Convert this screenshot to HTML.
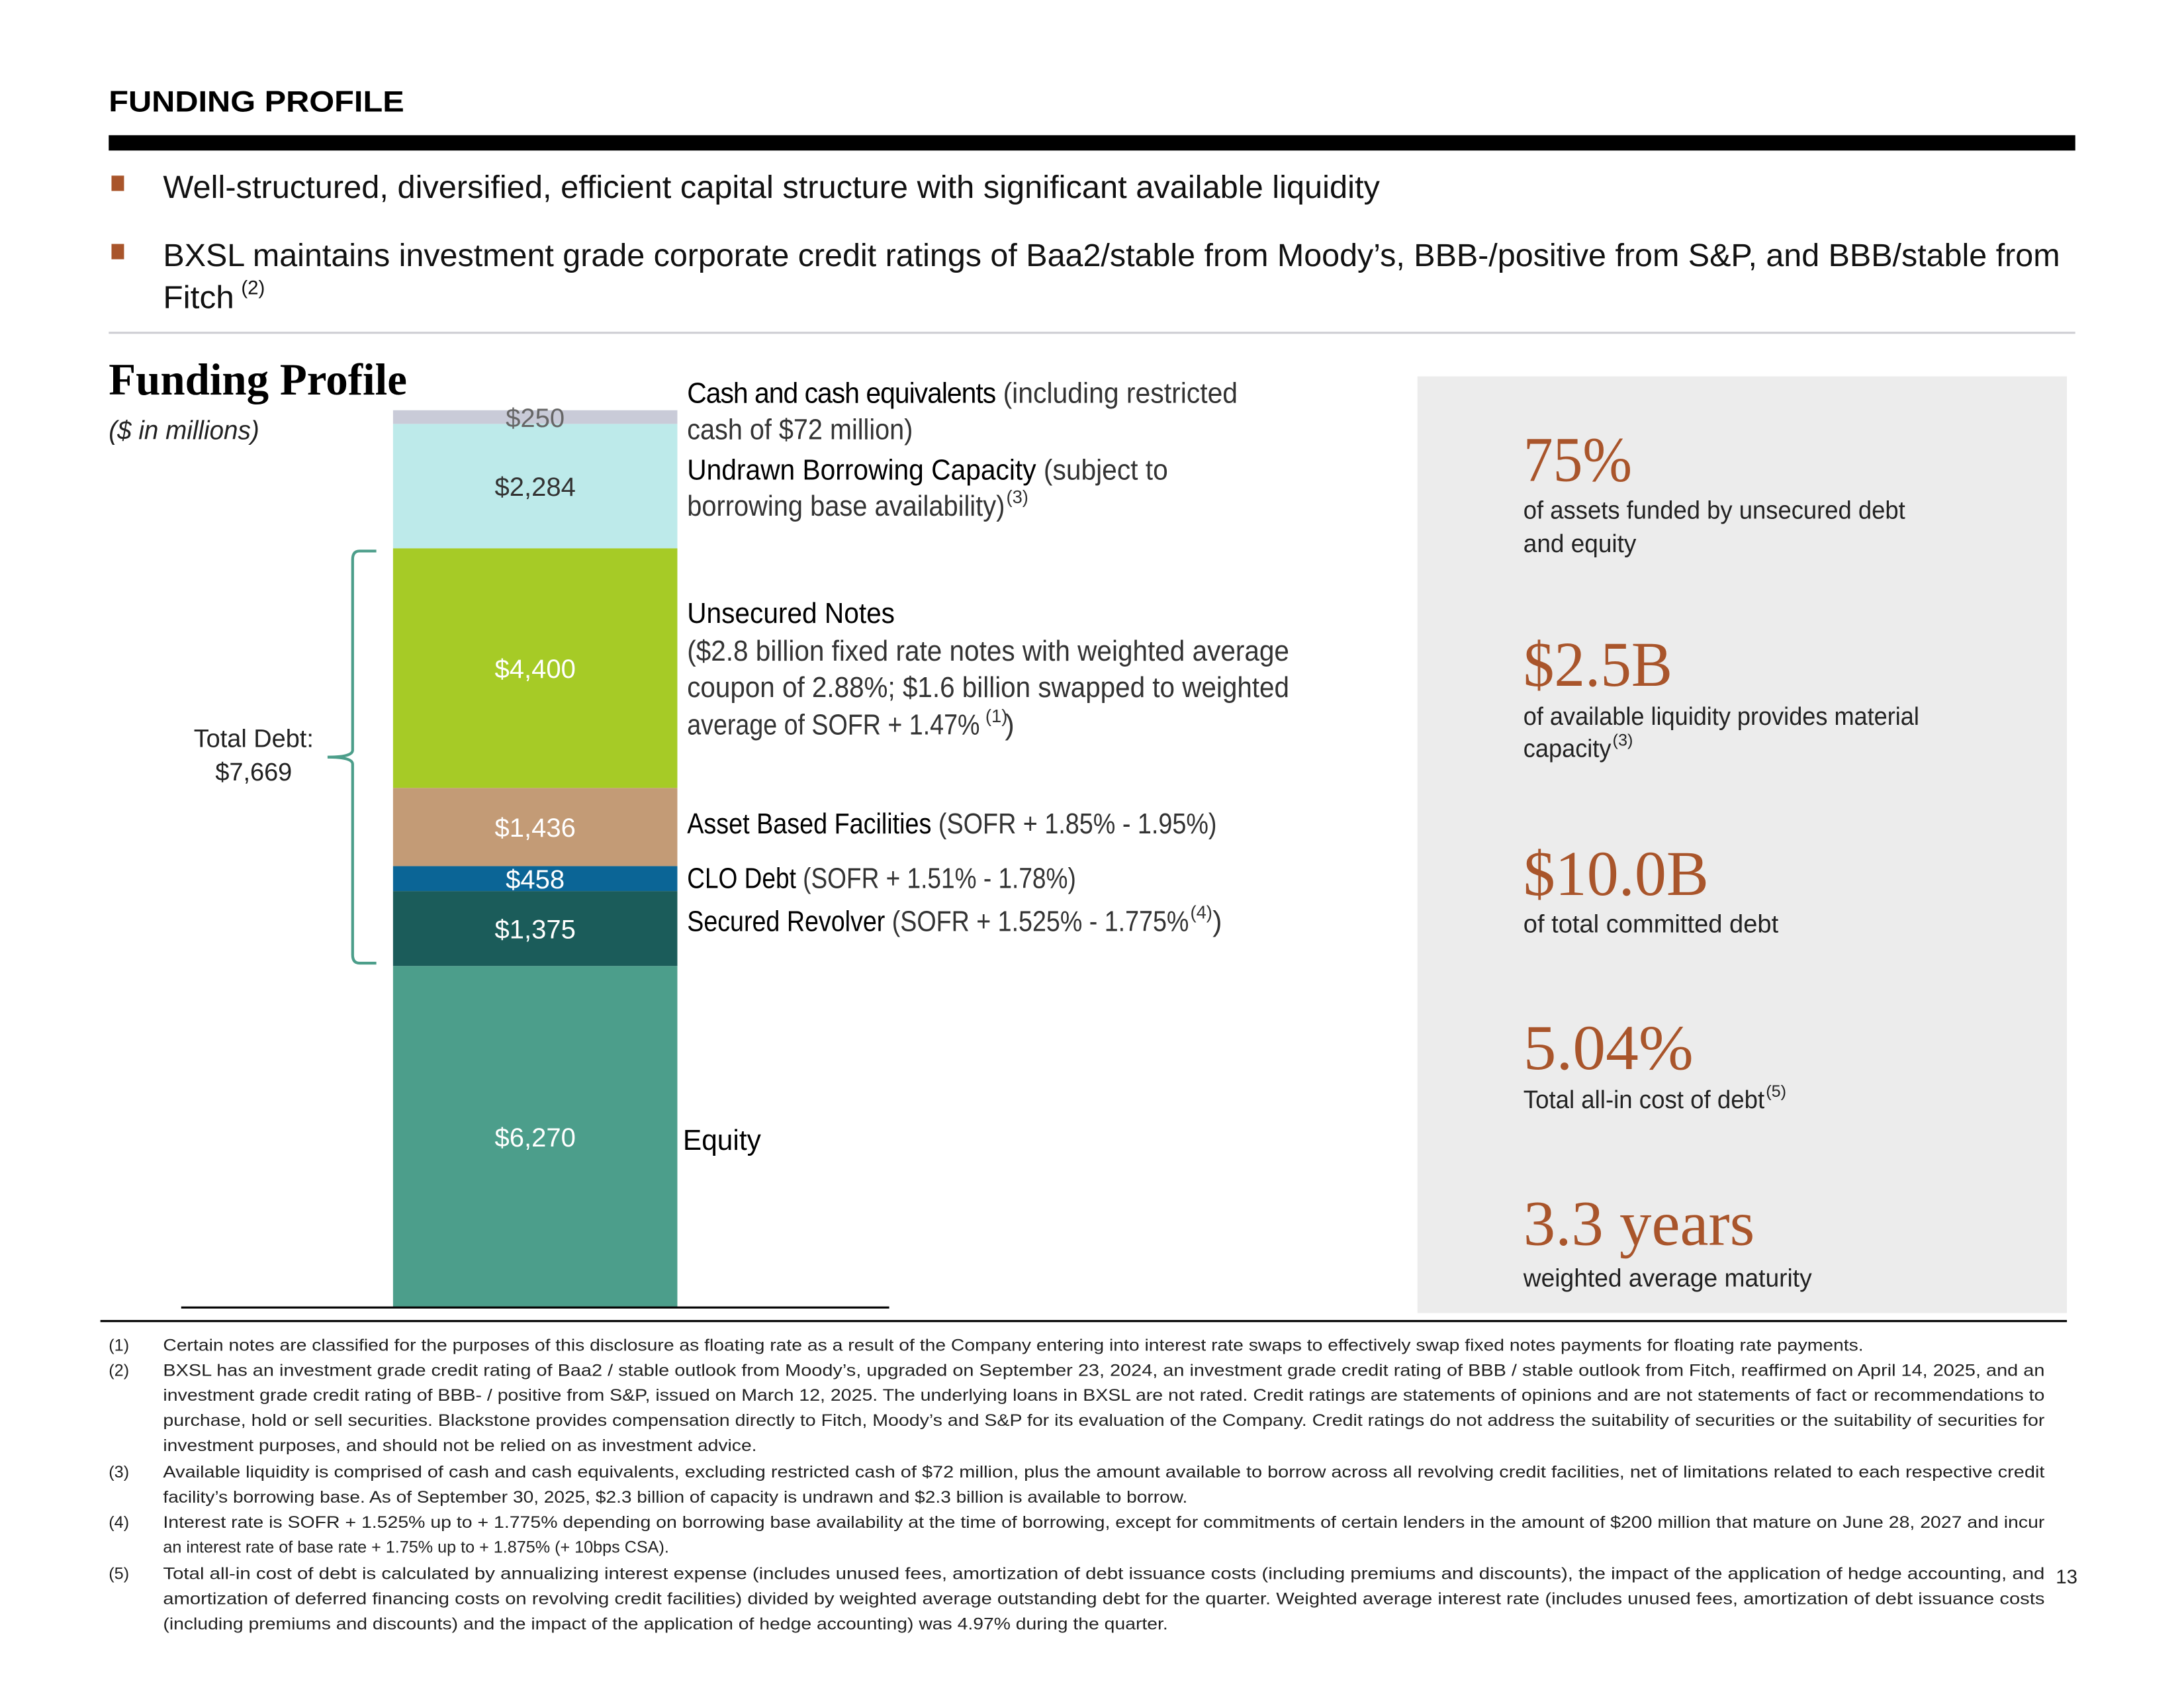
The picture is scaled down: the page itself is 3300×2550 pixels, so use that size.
<!DOCTYPE html>
<html><head><meta charset="utf-8"><style>
html,body{margin:0;padding:0;width:3300px;height:2550px;overflow:hidden;background:#fff}
svg{display:block}
text{font-family:"Liberation Sans",sans-serif}
.serif{font-family:"Liberation Serif",serif}
</style></head><body>
<svg id="page" width="3300" height="2550" viewBox="0 0 1567 1211" preserveAspectRatio="none" xmlns="http://www.w3.org/2000/svg">
<text x="78" y="80" font-size="21" font-weight="bold" textLength="212" lengthAdjust="spacingAndGlyphs">FUNDING PROFILE</text>
<rect x="78" y="97" width="1411" height="11" fill="#000"/>
<rect x="80" y="126" width="9" height="11" fill="#a9552b"/>
<text x="117" y="142" font-size="23" fill="#111" textLength="873" lengthAdjust="spacingAndGlyphs">Well-structured, diversified, efficient capital structure with significant available liquidity</text>
<rect x="80" y="175" width="9" height="11" fill="#a9552b"/>
<text x="117" y="191" font-size="23" fill="#111" textLength="1361" lengthAdjust="spacingAndGlyphs">BXSL maintains investment grade corporate credit ratings of Baa2/stable from Moody’s, BBB-/positive from S&amp;P, and BBB/stable from</text>
<text x="117" y="221" font-size="23" fill="#111" textLength="51" lengthAdjust="spacingAndGlyphs">Fitch</text>
<text x="173" y="211" font-size="14" fill="#111">(2)</text>
<rect x="78" y="238" width="1411" height="1.5" fill="#cfcfd4"/>

<text class="serif" x="78" y="283" font-size="32" font-weight="bold" textLength="214" lengthAdjust="spacingAndGlyphs">Funding Profile</text>
<text x="78" y="315" font-size="19" font-style="italic" fill="#222" textLength="108" lengthAdjust="spacingAndGlyphs">($ in millions)</text>

<g id="chart"></g>
<line x1="130" y1="938" x2="638" y2="938" stroke="#000" stroke-width="1.5"/>

<path id="brace" fill="none" stroke="#4c9e8a" stroke-width="2"/>
<text x="182" y="536" font-size="18" fill="#222" text-anchor="middle">Total Debt:</text>
<text id="totalDebt" x="182" y="560" font-size="18" fill="#222" text-anchor="middle"></text>

<g font-size="20.5" fill="#333">
<text x="493" y="289" textLength="395" lengthAdjust="spacingAndGlyphs"><tspan fill="#000" letter-spacing="-0.5">Cash and cash equivalents</tspan> (including restricted</text>
<text x="493" y="315" textLength="162" lengthAdjust="spacingAndGlyphs">cash of $72 million)</text>
<text x="493" y="344" textLength="345" lengthAdjust="spacingAndGlyphs"><tspan fill="#000">Undrawn Borrowing Capacity</tspan> (subject to</text>
<text x="493" y="370" textLength="228" lengthAdjust="spacingAndGlyphs">borrowing base availability)</text>
<text x="722" y="361" font-size="13">(3)</text>
<text x="493" y="447" fill="#000" textLength="149" lengthAdjust="spacingAndGlyphs">Unsecured Notes</text>
<text x="493" y="474" textLength="432" lengthAdjust="spacingAndGlyphs">($2.8 billion fixed rate notes with weighted average</text>
<text x="493" y="500" textLength="432" lengthAdjust="spacingAndGlyphs">coupon of 2.88%; $1.6 billion swapped to weighted</text>
<text x="493" y="527" textLength="210" lengthAdjust="spacingAndGlyphs">average of SOFR + 1.47%</text>
<text x="707" y="518" font-size="13">(1)</text>
<text x="721" y="527">)</text>
<text x="493" y="598" textLength="380" lengthAdjust="spacingAndGlyphs"><tspan fill="#000">Asset Based Facilities</tspan> (SOFR + 1.85% - 1.95%)</text>
<text x="493" y="637" textLength="279" lengthAdjust="spacingAndGlyphs"><tspan fill="#000">CLO Debt</tspan> (SOFR + 1.51% - 1.78%)</text>
<text x="493" y="668" textLength="360" lengthAdjust="spacingAndGlyphs"><tspan fill="#000">Secured Revolver</tspan> (SOFR + 1.525% - 1.775%</text>
<text x="854" y="659" font-size="13">(4)</text>
<text x="870" y="668">)</text>
<text x="490" y="825" fill="#000" textLength="56" lengthAdjust="spacingAndGlyphs">Equity</text>
</g>

<rect x="1017" y="270" width="466" height="672" fill="#ececec"/>
<g class="serif" font-size="46" fill="#a9552b">
<text class="serif" x="1093" y="345" textLength="78" lengthAdjust="spacingAndGlyphs">75%</text>
<text class="serif" x="1093" y="492" textLength="107" lengthAdjust="spacingAndGlyphs">$2.5B</text>
<text class="serif" x="1093" y="642" textLength="133" lengthAdjust="spacingAndGlyphs">$10.0B</text>
<text class="serif" x="1093" y="767" textLength="122" lengthAdjust="spacingAndGlyphs">5.04%</text>
<text class="serif" x="1093" y="893" textLength="166" lengthAdjust="spacingAndGlyphs">3.3 years</text>
</g>
<g font-size="18" fill="#222">
<text x="1093" y="372" textLength="274" lengthAdjust="spacingAndGlyphs">of assets funded by unsecured debt</text>
<text x="1093" y="396" textLength="81" lengthAdjust="spacingAndGlyphs">and equity</text>
<text x="1093" y="520" textLength="284" lengthAdjust="spacingAndGlyphs">of available liquidity provides material</text>
<text x="1093" y="543" textLength="63" lengthAdjust="spacingAndGlyphs">capacity</text>
<text x="1157" y="535" font-size="12">(3)</text>
<text x="1093" y="669" textLength="183" lengthAdjust="spacingAndGlyphs">of total committed debt</text>
<text x="1093" y="795" textLength="173" lengthAdjust="spacingAndGlyphs">Total all-in cost of debt</text>
<text x="1267" y="787" font-size="12">(5)</text>
<text x="1093" y="923" textLength="207" lengthAdjust="spacingAndGlyphs">weighted average maturity</text>
</g>

<rect x="72" y="947" width="1411" height="1.5" fill="#000"/>
<g font-size="12" fill="#222">
<text x="78" y="969">(1)</text>
<text x="117" y="969" textLength="1220" lengthAdjust="spacingAndGlyphs">Certain notes are classified for the purposes of this disclosure as floating rate as a result of the Company entering into interest rate swaps to effectively swap fixed notes payments for floating rate payments.</text>
<text x="78" y="987">(2)</text>
<text x="117" y="987" textLength="1350" lengthAdjust="spacingAndGlyphs">BXSL has an investment grade credit rating of Baa2 / stable outlook from Moody’s, upgraded on September 23, 2024,  an investment grade credit rating of BBB / stable outlook from Fitch, reaffirmed on April 14, 2025, and an</text>
<text x="117" y="1005" textLength="1350" lengthAdjust="spacingAndGlyphs">investment grade credit rating of BBB- / positive from S&amp;P, issued on March 12, 2025. The underlying loans in BXSL are not rated. Credit ratings are statements of opinions and are not statements of fact or recommendations to</text>
<text x="117" y="1023" textLength="1350" lengthAdjust="spacingAndGlyphs">purchase, hold or sell securities. Blackstone provides compensation directly to Fitch, Moody’s and S&amp;P for its evaluation of the Company. Credit ratings do not address the suitability of securities or the suitability of securities for</text>
<text x="117" y="1041" textLength="426" lengthAdjust="spacingAndGlyphs">investment purposes, and should not be relied on as investment advice.</text>
<text x="78" y="1060">(3)</text>
<text x="117" y="1060" textLength="1350" lengthAdjust="spacingAndGlyphs">Available liquidity is comprised of cash and cash equivalents, excluding restricted cash of $72 million, plus the amount available to borrow across all revolving credit facilities, net of limitations related to each respective credit</text>
<text x="117" y="1078" textLength="735" lengthAdjust="spacingAndGlyphs">facility’s borrowing base. As of September 30, 2025, $2.3 billion of capacity is undrawn and $2.3 billion is available to borrow.</text>
<text x="78" y="1096">(4)</text>
<text x="117" y="1096" textLength="1350" lengthAdjust="spacingAndGlyphs">Interest rate is SOFR + 1.525% up to + 1.775% depending on borrowing base availability at the time of borrowing, except for commitments of certain lenders in the amount of $200 million that mature on June 28, 2027 and incur</text>
<text x="117" y="1114" textLength="363" lengthAdjust="spacingAndGlyphs">an interest rate of base rate + 1.75% up to + 1.875% (+ 10bps CSA).</text>
<text x="78" y="1133">(5)</text>
<text x="117" y="1133" textLength="1350" lengthAdjust="spacingAndGlyphs">Total all-in cost of debt is calculated by annualizing interest expense (includes unused fees, amortization of debt issuance costs (including premiums and discounts), the impact of the application of hedge accounting, and</text>
<text x="117" y="1151" textLength="1350" lengthAdjust="spacingAndGlyphs">amortization of deferred financing costs on revolving credit facilities) divided by weighted average outstanding debt for the quarter. Weighted average interest rate (includes unused fees, amortization of debt issuance costs</text>
<text x="117" y="1169" textLength="721" lengthAdjust="spacingAndGlyphs">(including premiums and discounts) and the impact of the application of hedge accounting) was 4.97% during the quarter.</text>
</g>
<text x="1475" y="1136" font-size="14" fill="#222">13</text>
</svg>
<script>
// bottom-to-top order
const categories = ["Equity","Secured Revolver","CLO Debt","Asset Based Facilities","Unsecured Notes","Undrawn Borrowing Capacity","Cash and cash equivalents"];
const values = [6270, 1375, 458, 1436, 4400, 2284, 250];
const isDebt = [false, true, true, true, true, false, false];
const segColors = ["#4c9e8b","#1b5c5a","#0b6596","#c39b76","#a6cb26","#bdeaea","#c9cbd8"];
const textColors = ["#fff","#fff","#fff","#fff","#fff","#333","#666"];

const NS = "http://www.w3.org/2000/svg";
const chart = document.getElementById('chart');
const barX = 282, barW = 204, baseY = 938, pxPerUnit = 245 / 6270;
function yScale(v){ return baseY - v * pxPerUnit; }
let cum = 0, debtTop = null, debtBottom = null, totalDebt = 0;
categories.forEach((c, i) => {
  const y0 = yScale(cum), y1 = yScale(cum + values[i]);
  const r = document.createElementNS(NS, 'rect');
  
  
  r.setAttribute('x', barX); r.setAttribute('y', y1);
  r.setAttribute('width', barW); r.setAttribute('height', y0 - y1);
  r.setAttribute('fill', segColors[i]);
  chart.appendChild(r);
  const t = document.createElementNS(NS, 'text');
  
  
  t.setAttribute('x', barX + barW / 2);
  t.setAttribute('y', (y0 + y1) / 2 + 7);
  t.setAttribute('text-anchor', 'middle');
  t.setAttribute('font-size', '19');
  t.setAttribute('fill', textColors[i]);
  t.textContent = '$' + values[i].toLocaleString('en-US');
  chart.appendChild(t);
  if (isDebt[i]) {
    totalDebt += values[i];
    if (debtBottom === null) debtBottom = y0;
    debtTop = y1;
  }
  cum += values[i];
});
document.getElementById('totalDebt').textContent = '$' + totalDebt.toLocaleString('en-US');
const mid = (debtTop + debtBottom) / 2;
const bx = 253;
document.getElementById('brace').setAttribute('d',
  `M270 ${debtTop+2} L258 ${debtTop+2} Q${bx} ${debtTop+2} ${bx} ${debtTop+8} L${bx} ${mid-5} Q${bx} ${mid} 235 ${mid} Q${bx} ${mid} ${bx} ${mid+5} L${bx} ${debtBottom-8} Q${bx} ${debtBottom-2} 258 ${debtBottom-2} L270 ${debtBottom-2}`);
</script>
</body></html>
